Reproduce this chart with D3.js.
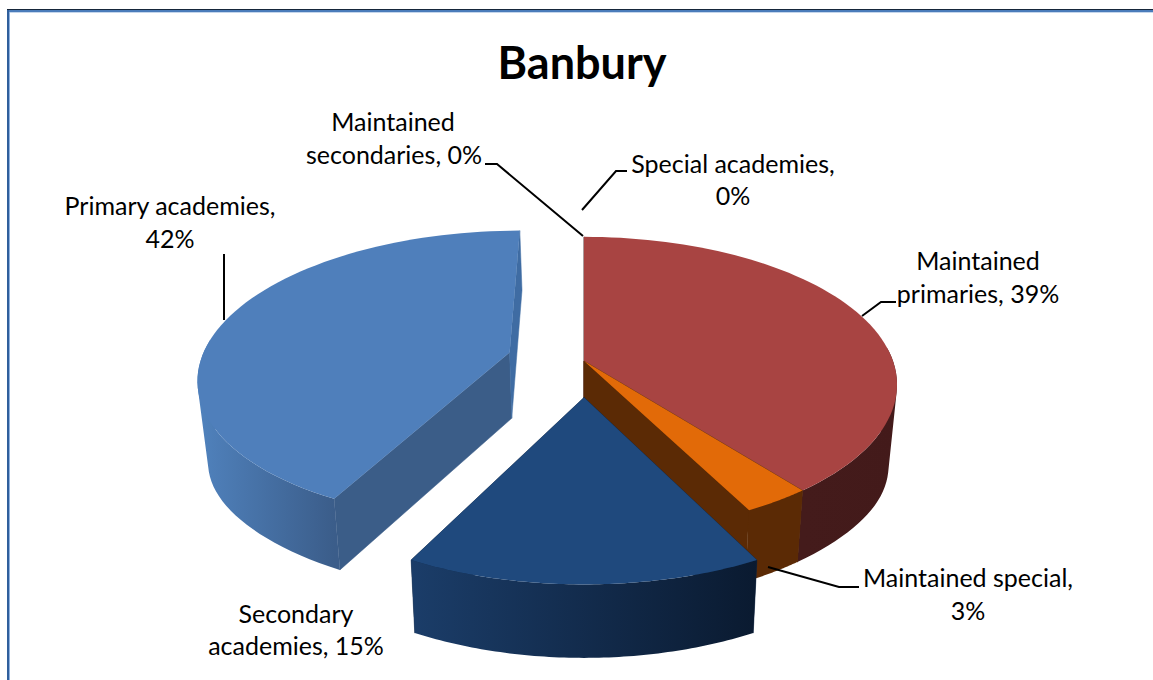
<!DOCTYPE html>
<html>
<meta charset="utf-8">
<head>
<script src="https://d3js.org/d3.v7.min.js"></script>
<style>
html, body { margin: 0; padding: 0; background: #fff; }
svg { display: block; }
text { font-family: Lato, "Open Sans", sans-serif; fill: #000; }
</style>
</head>
<body>
<div id="chart"></div>
<script>
// chart values, in the order the pie runs clockwise from 12 o'clock
var categories = ["Maintained primaries", "Maintained special", "Secondary academies", "Primary academies", "Maintained secondaries", "Special academies"];
var shares = [39, 3, 15, 42, 0, 0];
var explodes = [0, 0, 0.243, 0.25, 0, 0];
var topColors = ["#a84442", "#e26a08", "#1f497d", "#4f7fbb", "#000", "#000"];
var sideColors = ["#431a1a", "#5b2a05", "#0f2542", "#3b5d88", "#000", "#000"];
var rimFrom = ["#441b1b", "#5b2a05", "#1b3d69", "#5082bd", "#000", "#000"];
var rimTo = ["#431a1a", "#5b2a05", "#0a1a30", "#3b5d8a", "#000", "#000"];

var width = 1153, height = 680;

var svg = d3.select("#chart").append("svg")
    .attr("width", width)
    .attr("height", height);
var defs = svg.append("defs");

// frame around the pasted chart
svg.append("rect").attr("x", 7).attr("y", 9).attr("width", width).attr("height", 1).attr("fill", "#16263a");
svg.append("rect").attr("x", 7).attr("y", 10).attr("width", width).attr("height", 2).attr("fill", "#4a7cba");
svg.append("rect").attr("x", 7).attr("y", 12).attr("width", width).attr("height", 1).attr("fill", "#c5d6ec");
svg.append("rect").attr("x", 7).attr("y", 10).attr("width", 2).attr("height", height).attr("fill", "#2f5f9c");
svg.append("rect").attr("x", 9).attr("y", 12).attr("width", 1).attr("height", height).attr("fill", "#8fb2e0");

// perspective view of the pie, u to the right and v towards the viewer
var xScale = d3.scaleLinear().domain([-1, 1]).range([-309, 309]);
var yScale = d3.scaleLinear().domain([-1, 1]).range([-144, 144]);
var cx = 584, cy = 361, persp = 0.16;

function project(u, v, h, side) {
  var w = 1 - persp * v;
  var shrink = 0.028 - 0.006 * v;
  // the wall looks deeper at the left and right ends of the pie
  var depth = 66 + 6 * v + 14 * Math.pow(side, 6);
  return [
    cx + xScale(u) / w * (1 - shrink * h),
    cy + yScale(v) / w + h * depth
  ];
}

var pie = d3.pie().sort(null).value(function(d) { return d; });
var arcs = pie(shares);
var line = d3.line().curve(d3.curveLinear);
var steps = 72;

function point(i, a, r, h) {
  var mid = (arcs[i].startAngle + arcs[i].endAngle) / 2;
  var e = explodes[i];
  return project(r * Math.sin(a) + e * Math.sin(mid), -r * Math.cos(a) - e * Math.cos(mid), h, r * Math.abs(Math.sin(a)));
}

function rimAngles(i) {
  var s = arcs[i].startAngle, e = arcs[i].endAngle;
  return d3.range(0, steps + 1).map(function(k) { return s + (e - s) * k / steps; });
}

// one strip per step, all wound the same way so the fold at the silhouette stays filled
function rimPath(i, angles) {
  return d3.pairs(angles).map(function(d) {
    var quad = [point(i, d[0], 1, 0), point(i, d[1], 1, 0), point(i, d[1], 1, 1), point(i, d[0], 1, 1)];
    if (d3.polygonArea(quad) < 0) quad.reverse();
    return line(quad) + "Z";
  }).join("");
}

// back to front, so the nearer pieces cover the further ones
var drawOrder = [3, 0, 1, 2];

drawOrder.forEach(function(i) {
  var g = svg.append("g").attr("class", "slice").datum(categories[i]);
  var angles = rimAngles(i);
  var top = angles.map(function(a) { return point(i, a, 1, 0); });
  var front = angles.filter(function(a) { return -Math.cos(a) > -0.1; });
  var frontTop = front.map(function(a) { return point(i, a, 1, 0); });

  var grad = defs.append("linearGradient")
      .attr("id", "rim" + i)
      .attr("gradientUnits", "userSpaceOnUse")
      .attr("x1", d3.min(frontTop, function(p) { return p[0]; }))
      .attr("x2", d3.max(frontTop, function(p) { return p[0]; }))
      .attr("y1", 0).attr("y2", 0);
  grad.append("stop").attr("offset", "0%").attr("stop-color", rimFrom[i]);
  grad.append("stop").attr("offset", "100%").attr("stop-color", rimTo[i]);

  // the two cut walls
  [arcs[i].startAngle, arcs[i].endAngle].forEach(function(a) {
    var fill = i == 3 && a == arcs[i].endAngle ? "#3f6ca3" : sideColors[i];
    g.append("path")
        .attr("d", line([point(i, a, 0, 0), point(i, a, 1, 0), point(i, a, 1, 1), point(i, a, 0, 1)]) + "Z")
        .attr("fill", fill)
        .attr("stroke", fill)
        .attr("stroke-width", 0.5);
  });

  // outer wall
  g.append("path")
      .attr("class", "rim")
      .attr("d", rimPath(i, front))
      .attr("fill", "url(#rim" + i + ")");

  // top face
  g.append("path")
      .attr("d", line([point(i, arcs[i].startAngle, 0, 0)].concat(top)) + "Z")
      .attr("fill", topColors[i]);
});

// leader lines and data labels
var leaders = [
  [[862, 316], [881, 302], [896, 302]],
  [[768, 567], [839, 587], [859, 587]],
  [[224, 320], [224, 254]],
  [[583, 236], [497, 164], [485, 164]],
  [[582, 210], [616, 171], [627, 171]]
];
var labelLines = [
  {x: 978, y: 270, text: "Maintained"},
  {x: 978, y: 303, text: "primaries, 39%"},
  {x: 968, y: 587, text: "Maintained special,"},
  {x: 968, y: 620, text: "3%"},
  {x: 296, y: 623, text: "Secondary"},
  {x: 296, y: 655, text: "academies, 15%"},
  {x: 170, y: 215, text: "Primary academies,"},
  {x: 170, y: 248, text: "42%"},
  {x: 393, y: 131, text: "Maintained"},
  {x: 394, y: 164, text: "secondaries, 0%"},
  {x: 733, y: 173, text: "Special academies,"},
  {x: 733, y: 205, text: "0%"}
];

svg.selectAll("path.leader")
    .data(leaders)
    .enter().append("path")
    .attr("class", "leader")
    .attr("d", function(d) { return line(d); })
    .attr("fill", "none")
    .attr("stroke", "#000")
    .attr("stroke-width", 2);

svg.selectAll("text.label")
    .data(labelLines)
    .enter().append("text")
    .attr("class", "label")
    .attr("x", function(d) { return d.x; })
    .attr("y", function(d) { return d.y; })
    .attr("text-anchor", "middle")
    .attr("font-size", 25)
    .text(function(d) { return d.text; });

svg.append("text")
    .attr("x", 582)
    .attr("y", 79)
    .attr("text-anchor", "middle")
    .attr("font-size", 45)
    .attr("font-weight", "bold")
    .text("Banbury");
</script>
</body>
</html>
